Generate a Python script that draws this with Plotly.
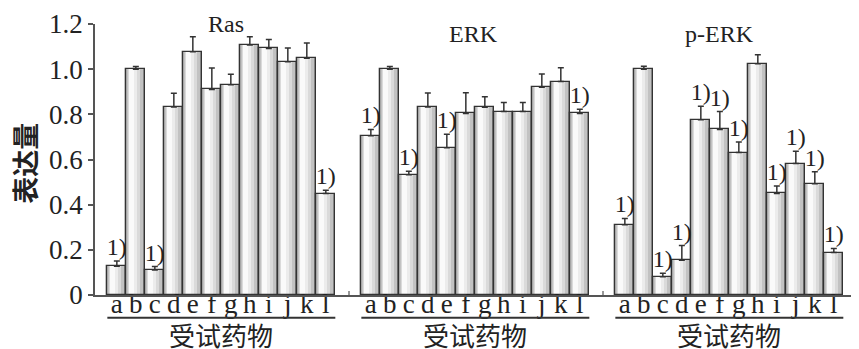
import plotly.graph_objects as go
from plotly.subplots import make_subplots

categories = ["a", "b", "c", "d", "e", "f", "g", "h", "i", "j", "k", "l"]
panel_titles = ["Ras", "ERK", "p-ERK"]

ras_values = [0.127, 1.0, 0.111, 0.833, 1.077, 0.910, 0.931, 1.107, 1.092, 1.033, 1.048, 0.449]
ras_errors = [0.024, 0.012, 0.015, 0.060, 0.067, 0.095, 0.046, 0.036, 0.039, 0.061, 0.068, 0.015]
ras_sig = [1, 0, 1, 0, 0, 0, 0, 0, 0, 0, 0, 1]

erk_values = [0.705, 1.0, 0.533, 0.832, 0.652, 0.804, 0.831, 0.812, 0.812, 0.920, 0.945, 0.804]
erk_errors = [0.028, 0.012, 0.015, 0.063, 0.060, 0.092, 0.047, 0.040, 0.040, 0.059, 0.061, 0.018]
erk_sig = [1, 0, 1, 0, 1, 0, 0, 0, 0, 0, 0, 1]

perk_values = [0.311, 1.0, 0.081, 0.154, 0.776, 0.733, 0.631, 1.024, 0.450, 0.582, 0.493, 0.188]
perk_errors = [0.028, 0.013, 0.015, 0.065, 0.060, 0.079, 0.047, 0.040, 0.033, 0.054, 0.053, 0.018]
perk_sig = [1, 0, 1, 1, 1, 1, 1, 0, 1, 1, 1, 1]

y_ticks = [0, 0.2, 0.4, 0.6, 0.8, 1.0, 1.2]
y_ticktext = ["0", "0.2", "0.4", "0.6", "0.8", "1.0", "1.2"]
y_title = "表达量"
x_title = "受试药物"
sig_label = "1)"

panels = [
    (ras_values, ras_errors, ras_sig),
    (erk_values, erk_errors, erk_sig),
    (perk_values, perk_errors, perk_sig),
]

SERIF = "Liberation Serif, Times New Roman, serif"
CJK = "Noto Sans CJK SC"
XR = [-1.15, 12.22]

fig = make_subplots(rows=1, cols=3, shared_yaxes=True, horizontal_spacing=0)

xpos = list(range(len(categories)))
layers = [
    (-0.5, 1.0, "#a6a6a6"),
    (-0.46, 0.84, "#c2c2c2"),
    (-0.42, 0.64, "#dadada"),
    (-0.38, 0.44, "#ececec"),
    (-0.34, 0.26, "#fafafa"),
]

for ci, (vals, errs, sig) in enumerate(panels, start=1):
    for off, w, col in layers:
        fig.add_trace(go.Bar(
            x=xpos, y=vals, offset=off, width=w,
            marker=dict(color=col, line=dict(width=0)),
            showlegend=False, hoverinfo="skip"), row=1, col=ci)
    fig.add_trace(go.Bar(
        x=xpos, y=vals, offset=-0.5, width=1.0,
        marker=dict(color="rgba(0,0,0,0)", line=dict(color="#333333", width=1.3)),
        error_y=dict(type="data", symmetric=False, array=errs,
                     arrayminus=[0] * len(errs), color="#333333",
                     thickness=1.5, width=3),
        showlegend=False), row=1, col=ci)
    sx = [x for x, s in zip(xpos, sig) if s]
    sy = [v + e for v, e, s in zip(vals, errs, sig) if s]
    fig.add_trace(go.Scatter(
        x=sx, y=sy, mode="text", text=[sig_label] * len(sx),
        textposition="top center", cliponaxis=False,
        textfont=dict(family=SERIF, size=24, color="#222222"),
        showlegend=False, hoverinfo="skip"), row=1, col=ci)
    fig.add_trace(go.Scatter(
        x=xpos, y=[0.008] * len(xpos), mode="text", text=categories,
        textposition="bottom center", cliponaxis=False,
        textfont=dict(family=SERIF, size=27, color="#222222"),
        showlegend=False, hoverinfo="skip"), row=1, col=ci)

for ci in range(1, 4):
    fig.update_xaxes(
        row=1, col=ci, range=XR, showticklabels=False,
        ticks="", showline=True, linecolor="#555555", linewidth=1.5,
        showgrid=False, zeroline=False)

fig.update_yaxes(
    range=[0, 1.2], tickvals=y_ticks, ticktext=y_ticktext, showgrid=False,
    zeroline=False, tickfont=dict(family=SERIF, size=27, color="#222222"))
fig.update_yaxes(row=1, col=1, showline=True, linecolor="#555555", linewidth=1.5,
                 ticks="outside", ticklen=5, tickcolor="#555555", tickwidth=1.5)

# page body has an 8px default margin; compensate so the plot area lands at x 95..857, y 24..295
fig.update_layout(
    width=851, height=341, barmode="overlay", bargap=0,
    margin=dict(l=87, r=2, t=16, b=54),
    paper_bgcolor="white", plot_bgcolor="white",
)


def to_paper(ci, xv):
    return (ci - 1) / 3 + (xv - XR[0]) / (XR[1] - XR[0]) / 3


title_pos = [(0.172, 1.001), (0.497, 0.964), (0.819, 0.964)]
for (tx, ty), t in zip(title_pos, panel_titles):
    fig.add_annotation(xref="paper", yref="paper", x=tx, y=ty, text=t,
                       showarrow=False, xanchor="center", yanchor="middle",
                       font=dict(family=SERIF, size=24, color="#222222"))

for ci in range(1, 4):
    fig.add_shape(type="line", xref="paper", yref="paper",
                  x0=to_paper(ci, -0.5), x1=to_paper(ci, 11.5),
                  y0=-0.084, y1=-0.084, line=dict(color="#333333", width=2))
    fig.add_annotation(xref="paper", yref="paper", x=to_paper(ci, 5.5), y=-0.147,
                       text=x_title, showarrow=False, xanchor="center",
                       yanchor="middle",
                       font=dict(family=CJK, size=26, color="#222222"))

for bx in [1 / 3, 2 / 3, 1.0]:
    fig.add_shape(type="line", xref="paper", yref="y", x0=bx, x1=bx,
                  y0=0, y1=0.018, line=dict(color="#555555", width=1.2))

fig.add_annotation(xref="paper", yref="paper", x=-0.092, y=0.488,
                   text="<b>" + y_title + "</b>", textangle=-90, showarrow=False,
                   xanchor="center", yanchor="middle",
                   font=dict(family=CJK, size=27, color="#222222"))

fig.write_html("out.html")
